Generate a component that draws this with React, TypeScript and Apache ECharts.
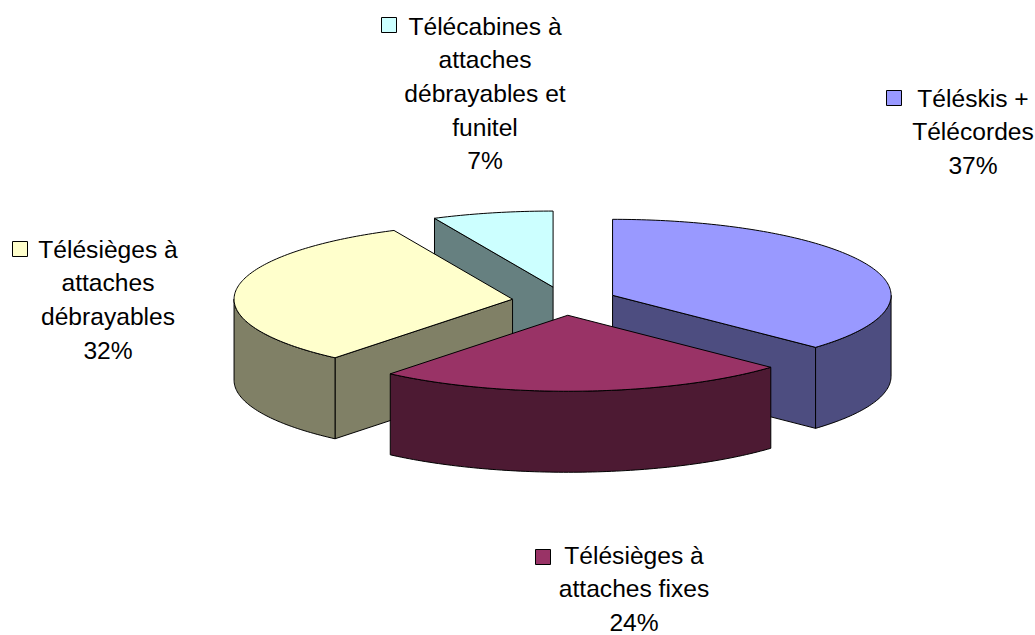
import React, { useEffect, useRef } from "react";
import * as echarts from "echarts";

// Lift types by share of the network, clockwise from twelve o'clock.
const categories = [
  ["Téléskis +", "Télécordes"],
  ["Télésièges à", "attaches fixes"],
  ["Télésièges à", "attaches", "débrayables"],
  ["Télécabines à", "attaches", "débrayables et", "funitel"],
];
const shares = [37, 24, 32, 7];
const topColors = ["#9999FF", "#993366", "#FFFFCC", "#CCFFFF"];
const wallColors = ["#4D4D80", "#4D1A33", "#808066", "#668080"];

// Projection of the tilted pie.
const PIE = { cx: 564.5, cy: 301, rx: 278.5, ry: 76, depth: 81, explode: 0.188 };

// Where each label block sits: text centre, first line's middle, legend key corner.
const LABEL_LAYOUT = [
  { x: 973, y: 98, keyX: 886.5, keyY: 90.5 },
  { x: 634, y: 555, keyX: 535.5, keyY: 549.5 },
  { x: 108, y: 249, keyX: 12.5, keyY: 241.5 },
  { x: 485, y: 26, keyX: 381.5, keyY: 17.5 },
];
const LINE_HEIGHT = 33.7;
const FONT = '"Liberation Sans", Arial, sans-serif';

const rad = (d: number) => (d * Math.PI) / 180;

function rimPoint(ax: number, ay: number, deg: number): number[] {
  return [ax + PIE.rx * Math.sin(rad(deg)), ay - PIE.ry * Math.cos(rad(deg))];
}

function arcPoints(ax: number, ay: number, from: number, to: number): number[][] {
  const steps = Math.max(2, Math.ceil(to - from));
  const pts: number[][] = [];
  for (let i = 0; i <= steps; i++) {
    pts.push(rimPoint(ax, ay, from + ((to - from) * i) / steps));
  }
  return pts;
}

function sliceStart(index: number) {
  const total = shares.reduce((a, b) => a + b, 0);
  const before = shares.slice(0, index).reduce((a, b) => a + b, 0);
  return (before / total) * 360;
}

function renderSlice(params: any, api: any) {
  const i = params.dataIndex;
  const start = sliceStart(i);
  const end = start + (api.value(0) / 100) * 360;
  const mid = (start + end) / 2;
  const ax = PIE.cx + PIE.explode * PIE.rx * Math.sin(rad(mid));
  const ay = PIE.cy - PIE.explode * PIE.ry * Math.cos(rad(mid));
  const base = Math.round((1 - Math.cos(rad(mid))) * 100) * 10;
  const edge = { stroke: "#000", lineWidth: 1, lineJoin: "round" };
  const children: any[] = [];
  const push = (points: number[][], fill: string) =>
    children.push({
      type: "polygon",
      z2: base + children.length,
      shape: { points },
      style: { ...edge, fill },
    });
  const cutFace = (deg: number) => {
    const p = rimPoint(ax, ay, deg);
    push(
      [
        [ax, ay],
        p,
        [p[0], p[1] + PIE.depth],
        [ax, ay + PIE.depth],
      ],
      wallColors[i],
    );
  };

  // Cut faces turned towards the viewer, then the curved wall, then the lid.
  if (Math.sin(rad(start)) < -1e-6) cutFace(start);
  if (Math.sin(rad(end)) > 1e-6) cutFace(end);
  const wallFrom = Math.max(start, 90);
  const wallTo = Math.min(end, 270);
  if (wallTo > wallFrom) {
    const rim = arcPoints(ax, ay, wallFrom, wallTo);
    const lower = rim.map(([x, y]) => [x, y + PIE.depth]).reverse();
    push([...rim, ...lower], wallColors[i]);
  }
  push([[ax, ay], ...arcPoints(ax, ay, start, end)], topColors[i]);

  return { type: "group", children };
}

function labelGraphics() {
  const out: any[] = [];
  categories.forEach((lines, i) => {
    const l = LABEL_LAYOUT[i];
    out.push({
      type: "rect",
      shape: { x: l.keyX, y: l.keyY, width: 15, height: 15 },
      style: { fill: topColors[i], stroke: "#000", lineWidth: 1 },
    });
    [...lines, `${shares[i]}%`].forEach((text, n) => {
      out.push({
        type: "text",
        x: l.x,
        y: l.y + n * LINE_HEIGHT,
        style: {
          text,
          fill: "#000",
          font: `24.6px ${FONT}`,
          align: "center",
          verticalAlign: "middle",
        },
      });
    });
  });
  return out;
}

export default function App() {
  const ref = useRef<HTMLDivElement>(null);

  useEffect(() => {
    document.body.style.margin = "0";
    const chart = echarts.init(ref.current!, null, { renderer: "svg" });
    chart.setOption({
      animation: false,
      backgroundColor: "#fff",
      series: [
        {
          type: "custom",
          coordinateSystem: "none",
          renderItem: renderSlice,
          data: shares.map((v) => [v]),
          silent: true,
        },
      ],
      graphic: labelGraphics(),
    });
    return () => chart.dispose();
  }, []);

  return <div ref={ref} style={{ width: 1035, height: 635 }} />;
}
